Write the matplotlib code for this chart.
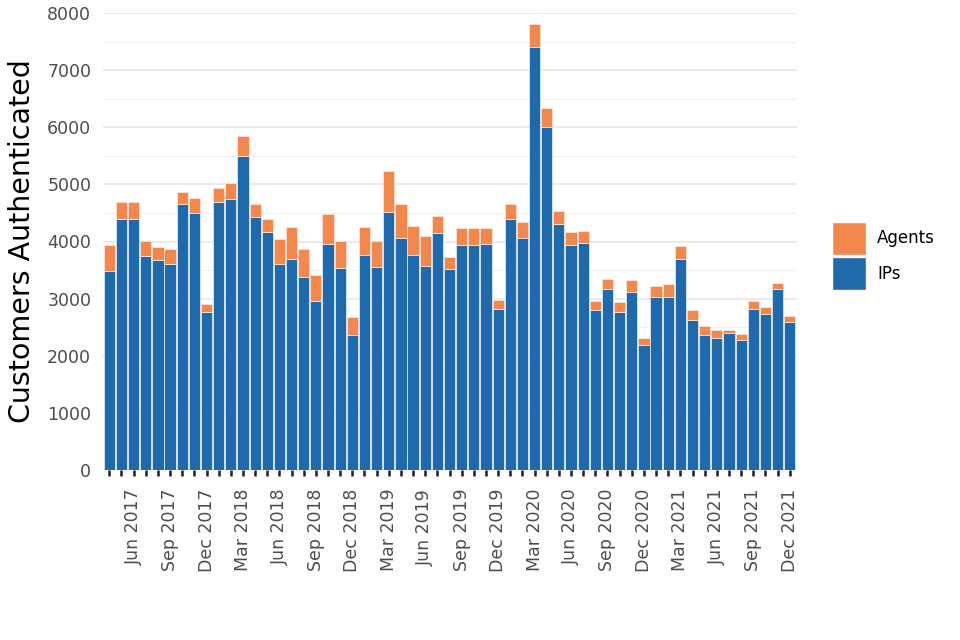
import matplotlib
matplotlib.use("Agg")
import matplotlib.pyplot as plt
import matplotlib.patches as mpatches
import numpy as np
import pandas as pd

months = pd.date_range("2017-04-01", "2021-12-01", freq="MS")
ips = [3480, 4400, 4400, 3750, 3670, 3610, 4660, 4500, 2770, 4690, 4740, 5500,
       4430, 4170, 3610, 3700, 3380, 2960, 3960, 3540, 2360, 3770, 3550, 4520,
       4070, 3770, 3570, 4150, 3520, 3940, 3940, 3960, 2810, 4400, 4070, 7410,
       6000, 4300, 3930, 3965, 2800, 3160, 2770, 3115, 2195, 3035, 3035, 3695,
       2620, 2365, 2305, 2395, 2270, 2810, 2730, 3165, 2590]
agents = [460, 300, 300, 260, 230, 250, 210, 260, 130, 250, 290, 350,
          220, 230, 430, 550, 490, 460, 530, 470, 310, 480, 460, 720,
          580, 510, 520, 300, 210, 290, 290, 270, 160, 265, 270, 400,
          340, 240, 235, 220, 160, 175, 170, 210, 110, 190, 225, 220,
          180, 160, 150, 60, 110, 145, 130, 100, 105]
series_names = ["Agents", "IPs"]
y_ticks = [0, 1000, 2000, 3000, 4000, 5000, 6000, 7000, 8000]

blue = "#1f6aad"
orange = "#f4874b"

fig = plt.figure(figsize=(9.6, 6.4), dpi=100)
ax = fig.add_axes([103/960, 1-470/640, 694/960, 457/640])

x = np.arange(1, len(months) + 1)
ax.bar(x, ips, width=0.92, color=blue, edgecolor="#dbe8f5", linewidth=0.6, zorder=3)
ax.bar(x, agents, bottom=ips, width=0.92, color=orange, edgecolor="#fbe3d6", linewidth=0.6, zorder=3)

ax.set_xlim(0.48, 57.6)
ax.set_ylim(0, 8000)
ax.set_yticks(y_ticks)
ax.set_yticklabels([str(v) for v in y_ticks])
ax.set_yticks(np.arange(500, 8000, 1000), minor=True)
ax.grid(axis="y", which="major", color="#e6e6e6", linewidth=1.1, zorder=0)
ax.grid(axis="y", which="minor", color="#f0f0f0", linewidth=0.8, zorder=0)
ax.grid(axis="x", visible=False)

labels = [m.strftime("%b %Y") if m.month in (3, 6, 9, 12) else "" for m in months]
ax.set_xticks(x)
ax.set_xticklabels(labels, rotation=90, ha="center", va="top", fontsize=12.5, color="#4d4d4d")
ax.tick_params(axis="x", length=4.5, width=1.8, color="#222222", pad=9)
ax.tick_params(axis="y", which="both", length=0, pad=8.5, labelsize=12.5, labelcolor="#4d4d4d")

for s in ax.spines.values():
    s.set_visible(False)

ax.set_ylabel("Customers Authenticated", fontsize=20.5, color="black", labelpad=8)

handles = [mpatches.Patch(facecolor=orange, edgecolor="white", label=series_names[0]),
           mpatches.Patch(facecolor=blue, edgecolor="white", label=series_names[1])]
fig.legend(handles=handles, loc="center left", bbox_to_anchor=(0.867, 0.6),
           frameon=False, fontsize=12, handlelength=2.0, handleheight=2.67,
           labelspacing=0.15, handletextpad=0.7, borderaxespad=0, borderpad=0)

fig.savefig("out.png", dpi=100, facecolor="white")
